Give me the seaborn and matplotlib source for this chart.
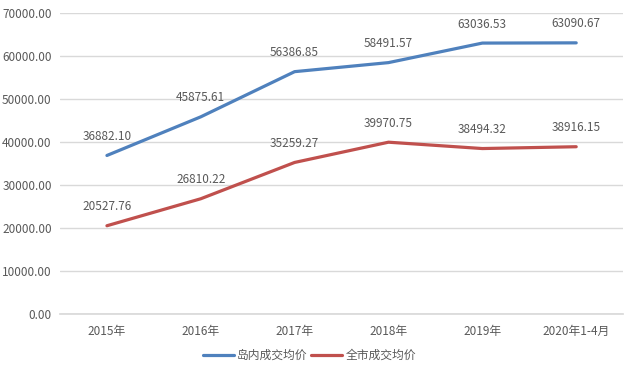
import pandas as pd
import seaborn as sns
import matplotlib.pyplot as plt

# chart data
years = ['2015年', '2016年', '2017年', '2018年', '2019年', '2020年1-4月']
island_price = [36882.10, 45875.61, 56386.85, 58491.57, 63036.53, 63090.67]
city_price = [20527.76, 26810.22, 35259.27, 39970.75, 38494.32, 38916.15]
series_names = ['岛内成交均价', '全市成交均价']
y_ticks = [0, 10000, 20000, 30000, 40000, 50000, 60000, 70000]

df = pd.DataFrame({
    'year': years * 2,
    'price': island_price + city_price,
    'series': [series_names[0]] * len(years) + [series_names[1]] * len(years),
})

sns.set_theme(style='white')
plt.rcParams['font.family'] = ['Noto Sans CJK SC', 'DejaVu Sans']
text_color = '#595959'

fig = plt.figure(figsize=(6.25, 3.76), dpi=100)
ax = fig.add_axes([0.096, 0.165, 0.901, 0.80])

palette = {series_names[0]: '#4F81BD', series_names[1]: '#C0504D'}
sns.lineplot(data=df, x='year', y='price', hue='series', palette=palette,
             linewidth=2.3, sort=False, ax=ax, legend=False)

# data labels
for vals in (island_price, city_price):
    for i, v in enumerate(vals):
        ax.annotate(f'{v:.2f}', (i, v), xytext=(0, 19), textcoords='offset pixels',
                    ha='center', va='center', fontsize=8.5, color=text_color)

ax.set_xlim(-0.5, len(years) - 0.5)
ax.set_ylim(0, 70000)
ax.set_yticks(y_ticks)
ax.set_yticklabels([f'{t:.2f}' for t in y_ticks])
ax.yaxis.grid(True, color='#d9d9d9', linewidth=1)
ax.xaxis.grid(False)
ax.set_xlabel('')
ax.set_ylabel('')
for s in ['top', 'right', 'left']:
    ax.spines[s].set_visible(False)
ax.spines['bottom'].set_color('#d9d9d9')
ax.tick_params(axis='both', length=0, labelsize=8.5, labelcolor=text_color)
ax.tick_params(axis='y', pad=6)
ax.tick_params(axis='x', pad=8)

handles = [plt.Line2D([], [], color=palette[n], linewidth=2.3) for n in series_names]
fig.legend(handles, series_names, loc='center', bbox_to_anchor=(0.495, 0.055),
           ncol=2, frameon=False, fontsize=8.5, handlelength=2.6, handletextpad=0.3,
           columnspacing=0.3, labelcolor=text_color)

plt.savefig('out.png', dpi=100)
